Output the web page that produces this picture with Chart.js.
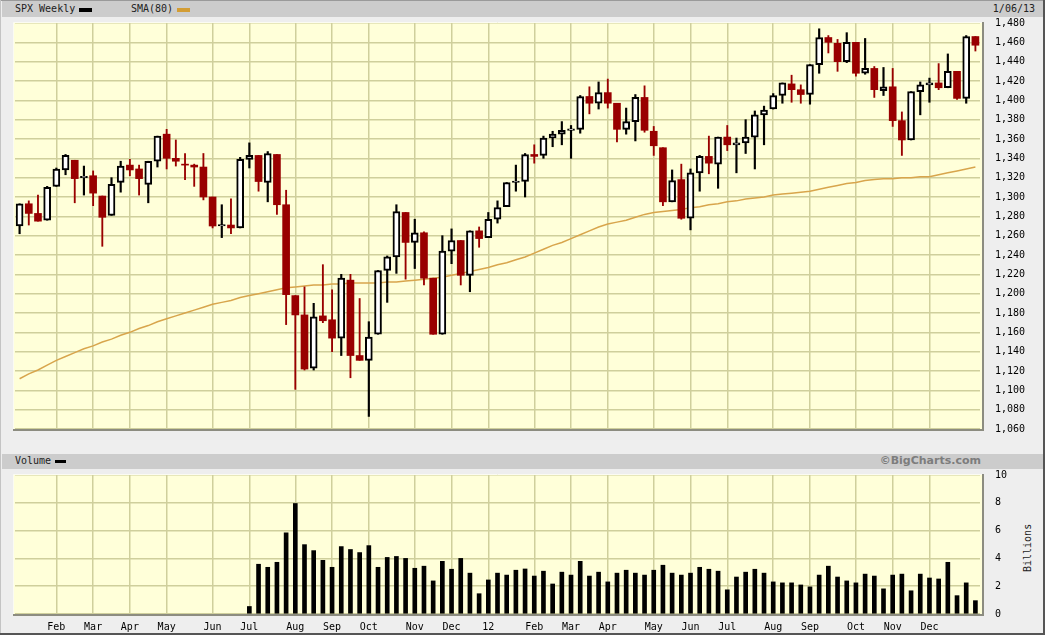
<!DOCTYPE html>
<html>
<head>
<meta charset="utf-8">
<title>SPX Weekly</title>
<script src="https://cdn.jsdelivr.net/npm/chart.js@4/dist/chart.umd.min.js"></script>
<style>
  html, body { margin: 0; padding: 0; background: #eee; }
  #frame { position: relative; width: 1045px; height: 635px; background: #eee; overflow: hidden;
           font-family: "DejaVu Sans Mono", monospace; font-size: 10px; color: #222; }
  .abs { position: absolute; }
  .bar { background: #ccc; }
  .txt { white-space: nowrap; line-height: 12px; }
  canvas { position: absolute; left: 0; }
</style>
</head>
<body>
<div id="frame">
  <div class="abs" style="left:0;top:0;width:1045px;height:1px;background:#9a9a9a"></div>
  <div class="abs" style="left:0;top:0;width:1px;height:635px;background:#c4c4c4"></div>
  <div class="abs" style="left:1043px;top:0;width:2px;height:635px;background:#555"></div>
  <div class="abs" style="left:0;top:633px;width:1045px;height:2px;background:#555"></div>

  <div class="abs bar" style="left:2px;top:1px;width:1041px;height:16px"></div>
  <div class="abs txt" style="left:15px;top:3px">SPX Weekly</div>
  <div class="abs" style="left:79px;top:8px;width:13px;height:4px;background:#000"></div>
  <div class="abs txt" style="left:131px;top:3px">SMA(80)</div>
  <div class="abs" style="left:177px;top:8px;width:13px;height:4px;background:#d39d34"></div>
  <div class="abs txt" style="right:10px;top:3px">1/06/13</div>

  <div class="abs bar" style="left:2px;top:454px;width:1041px;height:15px"></div>
  <div class="abs txt" style="left:15px;top:455px">Volume</div>
  <div class="abs" style="left:55px;top:460px;width:11px;height:3px;background:#000"></div>
  <div class="abs txt" style="right:64px;top:455px;font-family:'DejaVu Sans',sans-serif;font-weight:bold;font-size:11px;color:#7d7d7d">&copy;BigCharts.com</div>
  <div class="abs txt" style="left:1004px;top:542px;width:48px;text-align:center;transform:rotate(-90deg)">Billions</div>

  <canvas id="priceChart" width="1045" height="450" style="top:0"></canvas>
  <canvas id="volumeChart" width="1045" height="185" style="top:450px"></canvas>
</div>

<script>
// Weekly SPX candles, week of Jan 10 2011 through week of Jan 7 2013
const opens = [
  1270, 1293, 1283, 1276, 1311, 1328, 1338, 1320, 1322, 1301,
  1281, 1315, 1333, 1329, 1313, 1337, 1365, 1340, 1334, 1333,
  1331, 1300, 1270, 1271, 1268, 1339, 1343, 1315, 1344, 1292,
  1198, 1178, 1123, 1177, 1173, 1154, 1214, 1136, 1131, 1158,
  1224, 1238, 1284, 1253, 1263, 1216, 1158, 1244, 1255, 1219,
  1265, 1258, 1277, 1290, 1315, 1316, 1344, 1343, 1361, 1365,
  1369, 1370, 1404, 1397, 1408, 1397, 1370, 1378, 1403, 1368,
  1351, 1295, 1318, 1278, 1325, 1342, 1334, 1362, 1354, 1356,
  1362, 1385, 1391, 1405, 1417, 1411, 1406, 1437, 1465, 1459,
  1440, 1460, 1428, 1433, 1410, 1414, 1379, 1359, 1409, 1416,
  1418, 1413, 1430, 1402, 1466
];
const highs = [
  1293, 1296, 1302, 1311, 1330, 1344, 1338, 1332, 1327, 1301,
  1320, 1337, 1339, 1333, 1337, 1363, 1370, 1359, 1345, 1334,
  1345, 1300, 1292, 1298, 1341, 1356, 1343, 1347, 1344, 1307,
  1198, 1207, 1190, 1230, 1204, 1220, 1220, 1195, 1171, 1224,
  1239, 1292, 1284, 1277, 1264, 1216, 1260, 1267, 1255, 1265,
  1269, 1284, 1296, 1315, 1333, 1345, 1354, 1363, 1368, 1378,
  1374, 1405, 1414, 1419, 1422, 1397, 1392, 1406, 1415, 1373,
  1351, 1328, 1334, 1329, 1343, 1363, 1362, 1374, 1361, 1380,
  1389, 1394, 1407, 1418, 1426, 1416, 1437, 1474, 1467, 1463,
  1470, 1460, 1464, 1435, 1434, 1433, 1388, 1409, 1419, 1423,
  1438, 1448, 1430, 1467, 1466
];
const lows = [
  1262, 1271, 1275, 1276, 1311, 1323, 1294, 1302, 1291, 1249,
  1281, 1305, 1322, 1302, 1294, 1331, 1329, 1332, 1318, 1311,
  1297, 1268, 1258, 1262, 1268, 1330, 1306, 1295, 1282, 1168,
  1101, 1121, 1121, 1170, 1140, 1136, 1113, 1131, 1073, 1158,
  1191, 1221, 1215, 1226, 1209, 1158, 1158, 1231, 1209, 1202,
  1248, 1258, 1273, 1290, 1306, 1300, 1335, 1340, 1352, 1354,
  1340, 1366, 1386, 1391, 1392, 1357, 1365, 1358, 1367, 1343,
  1291, 1295, 1277, 1266, 1306, 1324, 1309, 1348, 1325, 1345,
  1329, 1354, 1391, 1397, 1398, 1397, 1396, 1428, 1449, 1430,
  1439, 1425, 1427, 1403, 1405, 1373, 1343, 1359, 1385, 1398,
  1411, 1413, 1401, 1397, 1451
];
const closes = [
  1293, 1283, 1275, 1310, 1329, 1343, 1319, 1321, 1304, 1279,
  1313, 1332, 1328, 1319, 1337, 1363, 1340, 1337, 1333, 1331,
  1300, 1270, 1271, 1268, 1339, 1343, 1316, 1345, 1292, 1199,
  1178, 1122, 1176, 1172, 1154, 1216, 1136, 1131, 1155, 1224,
  1238, 1285, 1253, 1263, 1216, 1158, 1244, 1255, 1219, 1265,
  1257, 1277, 1289, 1315, 1316, 1344, 1342, 1361, 1365, 1369,
  1370, 1404, 1397, 1408, 1397, 1370, 1378, 1403, 1369, 1353,
  1295, 1317, 1278, 1325, 1342, 1335, 1362, 1354, 1356, 1362,
  1385, 1390, 1405, 1418, 1411, 1406, 1437, 1465, 1460, 1440,
  1460, 1428, 1433, 1411, 1414, 1379, 1359, 1409, 1416, 1418,
  1413, 1430, 1402, 1466, 1457
];
// 80-week simple moving average
const sma80 = [
  1112, 1117, 1121, 1126, 1131, 1135, 1139, 1143, 1146, 1150,
  1153, 1157, 1160, 1164, 1167, 1171, 1174, 1177, 1180, 1183,
  1186, 1189, 1191, 1193, 1196, 1198, 1200, 1202, 1204, 1206,
  1207, 1208, 1209, 1209, 1210, 1210, 1211, 1211, 1211, 1211,
  1212, 1212, 1213, 1214, 1215, 1216, 1217, 1219, 1221, 1223,
  1225, 1227, 1230, 1232, 1235, 1238, 1242, 1246, 1250, 1253,
  1257, 1261, 1265, 1269, 1272, 1274, 1276, 1279, 1282, 1284,
  1285, 1286, 1287, 1289, 1290, 1292, 1293, 1295, 1296, 1298,
  1299, 1300, 1302, 1303, 1304, 1305, 1306, 1308, 1310, 1312,
  1314, 1315, 1317, 1318, 1319, 1319, 1320, 1320, 1321, 1321,
  1323, 1325, 1327, 1329, 1331
];
// weekly volume in billions (no data before July 2011)
const volume = [
  null, null, null, null, null, null, null, null, null, null,
  null, null, null, null, null, null, null, null, null, null,
  null, null, null, null, null, 0.54, 3.58, 3.36, 3.72, 5.84,
  7.95, 4.99, 4.56, 3.86, 3.36, 4.85, 4.64, 4.42, 4.92, 3.36,
  4.07, 4.14, 4.00, 3.29, 3.44, 2.38, 3.79, 3.22, 4.00, 2.94,
  1.46, 2.45, 2.94, 2.80, 3.15, 3.24, 2.73, 3.08, 2.16, 3.01,
  2.80, 3.79, 2.73, 3.01, 2.31, 2.94, 3.15, 2.94, 2.80, 3.15,
  3.51, 2.94, 2.80, 2.94, 3.36, 3.22, 3.08, 1.74, 2.66, 3.01,
  3.22, 2.94, 2.31, 2.24, 2.24, 2.09, 1.95, 2.80, 3.44, 2.66,
  2.38, 2.24, 2.87, 2.73, 1.81, 2.80, 2.87, 1.67, 2.87, 2.59,
  2.52, 3.72, 1.32, 2.24, 0.96
];
const monthTickIndex = [4, 8, 12, 16, 21, 25, 30, 34, 38, 43, 47, 51, 56, 60, 64, 69, 73, 77, 82, 86, 91, 95, 99];
const monthTickLabel = ['Feb', 'Mar', 'Apr', 'May', 'Jun', 'Jul', 'Aug', 'Sep', 'Oct', 'Nov', 'Dec', '12',
                        'Feb', 'Mar', 'Apr', 'May', 'Jun', 'Jul', 'Aug', 'Sep', 'Oct', 'Nov', 'Dec'];

// week labels (Monday of each week)
const weekLabels = [];
const firstWeek = Date.UTC(2011, 0, 10);
for (let i = 0; i < opens.length; i++) {
  const d = new Date(firstWeek + i * 7 * 864e5);
  weekLabels.push((d.getUTCMonth() + 1) + '/' + d.getUTCDate() + '/' + String(d.getUTCFullYear()).slice(2));
}

const UP_COLOR = '#000';
const DOWN_COLOR = '#990000';
const GRID = '#cfcf9c';
const PLOT_BG = '#ffffd9';

const isUp = (i) => closes[i] >= opens[i];
const upBodies = opens.map((o, i) => isUp(i) ? [o, Math.max(closes[i], o + 1.5)] : null);
const downBodies = opens.map((o, i) => isUp(i) ? null : [closes[i], o]);
const upWicks = opens.map((o, i) => isUp(i) ? [lows[i], highs[i]] : null);
const downWicks = opens.map((o, i) => isUp(i) ? null : [lows[i], highs[i]]);

Chart.defaults.font.family = '"DejaVu Sans Mono", monospace';
Chart.defaults.font.size = 10;
Chart.defaults.color = '#000';
Chart.defaults.animation = false;

// yellow plot box with a light top/left and dark bottom/right edge
const plotFrame = {
  id: 'plotFrame',
  beforeDraw(chart) {
    const { ctx, chartArea: a } = chart;
    ctx.save();
    ctx.fillStyle = PLOT_BG;
    ctx.fillRect(a.left - 1, a.top, a.right - a.left + 3, a.bottom - a.top);
    ctx.restore();
  },
  afterDraw(chart) {
    const { ctx, chartArea: a } = chart;
    ctx.save();
    ctx.lineWidth = 1;
    ctx.strokeStyle = '#fbfbf2';
    ctx.beginPath();
    ctx.moveTo(a.left - 1.5, a.bottom);
    ctx.lineTo(a.left - 1.5, a.top - 0.5);
    ctx.lineTo(a.right + 2, a.top - 0.5);
    ctx.stroke();
    ctx.lineWidth = 2;
    ctx.strokeStyle = '#8c8c80';
    ctx.beginPath();
    ctx.moveTo(a.left - 2, a.bottom + 1);
    ctx.lineTo(a.right + 3, a.bottom + 1);
    ctx.lineTo(a.right + 3, a.top - 1);
    ctx.stroke();
    ctx.restore();
  }
};

const monthGrid = (c) => monthTickIndex.includes(c.index) ? GRID : 'rgba(0,0,0,0)';

new Chart(document.getElementById('priceChart'), {
  type: 'bar',
  data: {
    labels: weekLabels,
    datasets: [
      { label: 'up', data: upBodies, backgroundColor: '#fff', borderColor: UP_COLOR, borderWidth: 2,
        borderSkipped: false, barThickness: 7, grouped: false, order: 0 },
      { label: 'down', data: downBodies, backgroundColor: DOWN_COLOR, borderWidth: 0,
        barThickness: 7, grouped: false, order: 1 },
      { label: 'upWick', data: upWicks, backgroundColor: UP_COLOR, borderWidth: 0,
        barThickness: 1.5, grouped: false, order: 2 },
      { label: 'downWick', data: downWicks, backgroundColor: DOWN_COLOR, borderWidth: 0,
        barThickness: 1.2, grouped: false, order: 3 },
      { type: 'line', label: 'SMA(80)', data: sma80, borderColor: '#d8a54c', borderWidth: 1.5,
        pointRadius: 0, tension: 0, order: 4 }
    ]
  },
  options: {
    responsive: false,
    layout: { padding: { left: 15, top: 23, right: 0, bottom: 7 } },
    plugins: { legend: { display: false }, tooltip: { enabled: false } },
    scales: {
      x: {
        offset: true,
        ticks: { display: false, autoSkip: false },
        grid: { offset: false, drawTicks: false, color: monthGrid, lineWidth: 1.5 },
        border: { display: false },
        afterFit(scale) { scale.height = 0; }
      },
      y: {
        position: 'right',
        min: 1060, max: 1480,
        ticks: { stepSize: 20, padding: 15, callback: (v) => v.toLocaleString('en-US') },
        grid: { drawTicks: false, color: GRID, lineWidth: 1.5 },
        border: { display: false },
        afterFit(scale) { scale.width = 65; }
      }
    }
  },
  plugins: [plotFrame]
});

new Chart(document.getElementById('volumeChart'), {
  type: 'bar',
  data: {
    labels: weekLabels,
    datasets: [
      { label: 'Volume', data: volume, backgroundColor: '#000', barThickness: 4, grouped: false }
    ]
  },
  options: {
    responsive: false,
    layout: { padding: { left: 15, top: 25, right: 0, bottom: 0 } },
    plugins: { legend: { display: false }, tooltip: { enabled: false } },
    scales: {
      x: {
        offset: true,
        ticks: {
          autoSkip: false, maxRotation: 0, padding: 7,
          callback: (v, i) => {
            const k = monthTickIndex.indexOf(i);
            return k >= 0 ? monthTickLabel[k] : '';
          }
        },
        grid: { offset: false, drawTicks: false, color: monthGrid, lineWidth: 1.5 },
        border: { display: false },
        afterFit(scale) { scale.height = 18; }
      },
      y: {
        position: 'right',
        min: 0, max: 10,
        ticks: { stepSize: 2, padding: 15 },
        grid: { drawTicks: false, color: GRID, lineWidth: 1.5 },
        border: { display: false },
        afterFit(scale) { scale.width = 65; }
      }
    }
  },
  plugins: [plotFrame]
});
</script>
</body>
</html>
